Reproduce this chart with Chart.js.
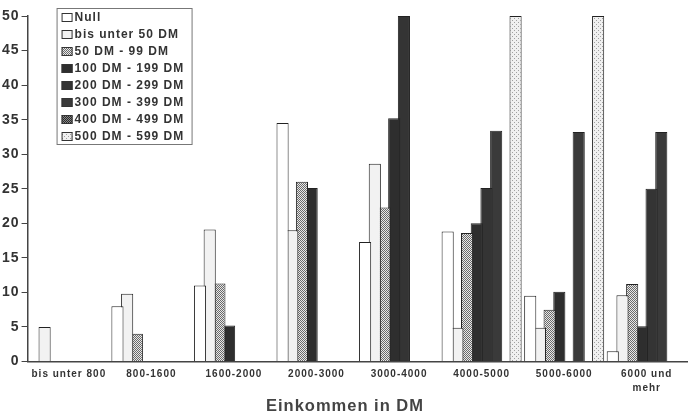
<!DOCTYPE html>
<html>
<head>
<meta charset="utf-8">
<script src="https://cdn.jsdelivr.net/npm/chart.js@4.4.1/dist/chart.umd.min.js"></script>
<style>
  html, body { margin: 0; padding: 0; background: #fff; }
  #wrap { width: 688px; height: 418px; }
</style>
</head>
<body>
<div id="wrap"><canvas id="incomeChart"></canvas></div>
<script>
// categories (income brackets) and y ticks
const categories = ['bis unter 800', '800-1600', '1600-2000', '2000-3000', '3000-4000', '4000-5000', '5000-6000', ['6000 und', 'mehr']];
const seriesNames = ['Null', 'bis unter 50 DM', '50 DM - 99 DM', '100 DM - 199 DM', '200 DM - 299 DM', '300 DM - 399 DM', '400 DM - 499 DM', '500 DM - 599 DM'];
const yTicks = [0, 5, 10, 15, 20, 25, 30, 35, 40, 45, 50];

// values per series, one per category
const nullValues   = [0, 8, 11, 34.5, 17.3, 18.8, 9.5, 1.5];
const under50      = [5, 9.8, 19.1, 19, 28.6, 4.9, 4.9, 9.6];
const from50to99   = [0, 4, 11.3, 26, 22.3, 18.6, 7.5, 11.2];
const from100to199 = [0, 0, 5.2, 25.1, 35.2, 20, 10.1, 5.1];
const from200to299 = [0, 0, 0, 0, 50, 25.1, 0, 25];
const from300to399 = [0, 0, 0, 0, 0, 33.4, 33.2, 33.2];
const from400to499 = [0, 0, 0, 0, 0, 0, 0, 0];
const from500to599 = [0, 0, 0, 0, 0, 50, 50, 0];

// little fill patterns like the old print
function makePattern(bg, fg, cells) {
  const c = document.createElement('canvas');
  c.width = 4; c.height = 4;
  const g = c.getContext('2d');
  g.fillStyle = bg;
  g.fillRect(0, 0, 4, 4);
  g.fillStyle = fg;
  cells.forEach(([x, y]) => g.fillRect(x, y, 1, 1));
  return g.createPattern(c, 'repeat');
}
const checker = [[0, 0], [2, 0], [1, 1], [3, 1], [0, 2], [2, 2], [1, 3], [3, 3]];
const sparse = [[0, 0], [2, 2]];

const fills = [
  '#ffffff',
  '#f2f2f2',
  makePattern('#e8e8e8', '#6a6a6a', checker),
  '#2e2e2e',
  '#343434',
  '#3a3a3a',
  makePattern('#888888', '#2a2a2a', checker),
  makePattern('#f0f0f0', '#a0a0a0', sparse)
];
const allValues = [nullValues, under50, from50to99, from100to199, from200to299, from300to399, from400to499, from500to599];

const font = '"Liberation Sans", Arial, sans-serif';

// the print has wide letter spacing everywhere
const spacing = {
  id: 'spacing',
  beforeDraw(chart) { chart.ctx.letterSpacing = '1px'; }
};

// legend drawn inside the plot, top left
const boxLegend = {
  id: 'boxLegend',
  afterDraw(chart) {
    const ctx = chart.ctx;
    const x0 = chart.chartArea.left + 29, y0 = 8;
    ctx.save();
    ctx.strokeStyle = '#777';
    ctx.lineWidth = 1;
    ctx.strokeRect(x0 + 0.5, y0 + 0.5, 135, 136);
    ctx.font = 'bold 12px ' + font;
    ctx.letterSpacing = '1px';
    ctx.textBaseline = 'middle';
    chart.data.datasets.forEach((ds, i) => {
      const cy = y0 + 9 + i * 17;
      ctx.fillStyle = ds.backgroundColor;
      ctx.fillRect(x0 + 5, cy - 4, 11, 9);
      ctx.strokeStyle = '#333';
      ctx.strokeRect(x0 + 5.5, cy - 3.5, 10, 8);
      ctx.fillStyle = '#333';
      ctx.fillText(ds.label, x0 + 18, cy + 1);
    });
    ctx.restore();
  }
};

new Chart(document.getElementById('incomeChart'), {
  type: 'bar',
  data: {
    labels: categories,
    datasets: seriesNames.map((name, i) => ({
      label: name,
      data: allValues[i],
      backgroundColor: fills[i],
      borderColor: '#222',
      borderWidth: 1,
      categoryPercentage: 0.94,
      barPercentage: 1.25
    }))
  },
  options: {
    responsive: true,
    maintainAspectRatio: false,
    animation: false,
    layout: { padding: { top: 16, right: 0, left: 2, bottom: 0 } },
    plugins: {
      legend: { display: false },
      tooltip: { enabled: false },
      title: {
        display: true,
        position: 'bottom',
        text: 'Einkommen in DM',
        color: '#444',
        font: { family: font, size: 16.5, weight: 'bold', lineHeight: 1.0 },
        padding: { top: -3, bottom: 3 }
      }
    },
    scales: {
      x: {
        grid: { display: false, drawTicks: false },
        border: { color: '#444', width: 1.5 },
        ticks: {
          color: '#333',
          padding: 6,
          maxRotation: 0,
          autoSkip: false,
          font: { family: font, size: 10, weight: 'bold', lineHeight: 1.4 }
        }
      },
      y: {
        min: 0,
        max: 50,
        afterBuildTicks: axis => { axis.ticks = yTicks.map(v => ({ value: v })); },
        grid: { drawOnChartArea: false, tickLength: 6, color: '#444' },
        border: { color: '#444', width: 1.5 },
        ticks: {
          color: '#333',
          padding: 2,
          font: { family: font, size: 14, weight: 'bold' }
        }
      }
    }
  },
  plugins: [spacing, boxLegend]
});
</script>
</body>
</html>
